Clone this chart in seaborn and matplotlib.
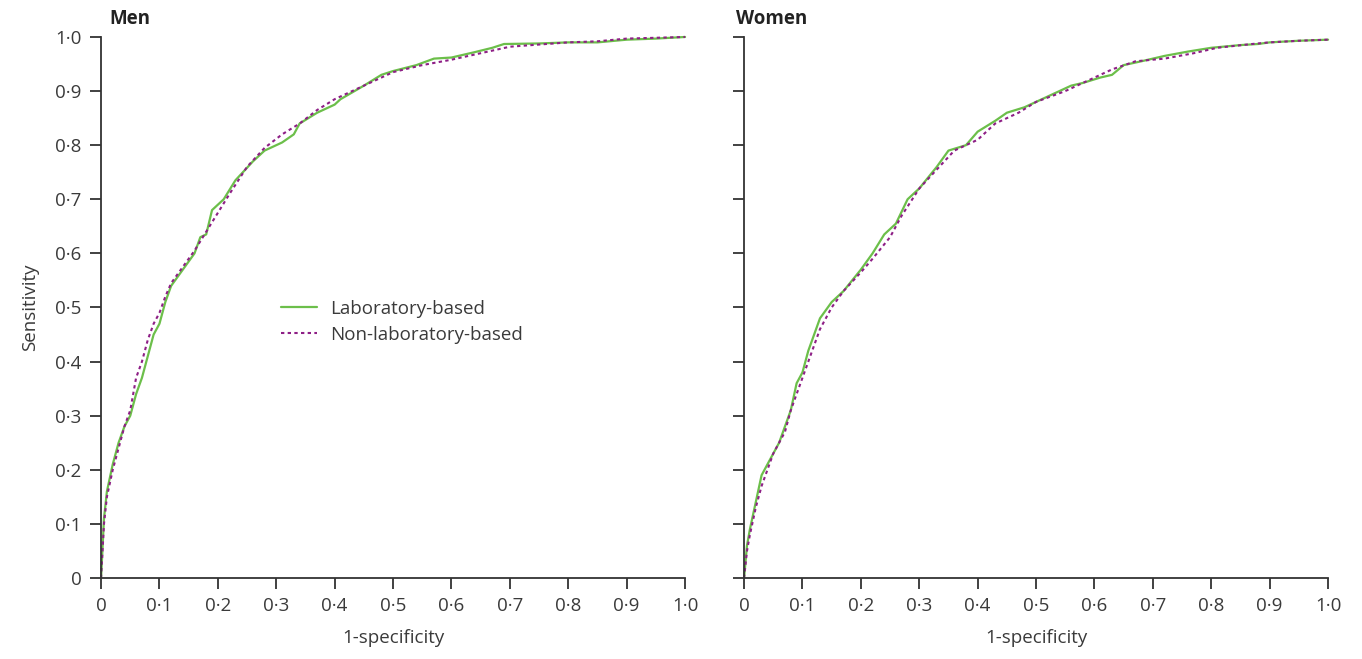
import numpy as np
import pandas as pd
import seaborn as sns
import matplotlib.pyplot as plt

# ROC points (x = 1-specificity, y = sensitivity)
men_lab_x = [0, 0.005, 0.01, 0.02, 0.03, 0.04, 0.05, 0.06, 0.07, 0.08, 0.09, 0.10, 0.11, 0.12,
             0.14, 0.16, 0.17, 0.18, 0.19, 0.21, 0.23, 0.26, 0.28, 0.31, 0.33, 0.34, 0.37, 0.40,
             0.41, 0.45, 0.48, 0.50, 0.54, 0.57, 0.60, 0.64, 0.67, 0.69, 0.75, 0.80, 0.85, 0.90,
             0.95, 1.0]
men_lab_y = [0, 0.11, 0.16, 0.21, 0.25, 0.28, 0.30, 0.34, 0.37, 0.41, 0.45, 0.47, 0.51, 0.54,
             0.57, 0.60, 0.63, 0.635, 0.68, 0.70, 0.735, 0.77, 0.79, 0.805, 0.82, 0.84, 0.86, 0.875,
             0.885, 0.91, 0.93, 0.937, 0.948, 0.96, 0.962, 0.972, 0.98, 0.987, 0.988, 0.99, 0.99, 0.995,
             0.997, 1.0]
men_nonlab_x = [0, 0.005, 0.01, 0.02, 0.03, 0.04, 0.05, 0.06, 0.07, 0.08, 0.09, 0.10, 0.11, 0.12,
                0.14, 0.16, 0.18, 0.20, 0.22, 0.25, 0.28, 0.31, 0.34, 0.37, 0.40, 0.45, 0.50, 0.55,
                0.60, 0.65, 0.70, 0.75, 0.80, 0.85, 0.90, 1.0]
men_nonlab_y = [0, 0.10, 0.15, 0.20, 0.24, 0.28, 0.31, 0.37, 0.40, 0.44, 0.47, 0.49, 0.52, 0.545,
                0.575, 0.605, 0.64, 0.675, 0.71, 0.76, 0.795, 0.82, 0.84, 0.865, 0.885, 0.91, 0.935, 0.948,
                0.958, 0.97, 0.982, 0.986, 0.99, 0.992, 0.997, 1.0]

women_lab_x = [0, 0.005, 0.01, 0.02, 0.03, 0.04, 0.05, 0.06, 0.07, 0.08, 0.09, 0.10, 0.11, 0.12,
               0.13, 0.15, 0.17, 0.20, 0.22, 0.24, 0.26, 0.28, 0.30, 0.33, 0.35, 0.38, 0.40, 0.43,
               0.45, 0.48, 0.50, 0.53, 0.56, 0.58, 0.61, 0.63, 0.65, 0.68, 0.72, 0.76, 0.80, 0.85,
               0.88, 0.90, 0.95, 1.0]
women_lab_y = [0, 0.06, 0.09, 0.14, 0.19, 0.21, 0.23, 0.25, 0.28, 0.31, 0.36, 0.38, 0.42, 0.45,
               0.48, 0.51, 0.53, 0.57, 0.60, 0.635, 0.655, 0.70, 0.72, 0.76, 0.79, 0.80, 0.825, 0.845,
               0.86, 0.87, 0.88, 0.895, 0.91, 0.915, 0.925, 0.93, 0.948, 0.955, 0.965, 0.973, 0.98, 0.985,
               0.987, 0.99, 0.993, 0.995]
women_nonlab_x = [0, 0.005, 0.01, 0.02, 0.03, 0.04, 0.05, 0.06, 0.07, 0.08, 0.09, 0.10, 0.11, 0.12,
                  0.13, 0.15, 0.17, 0.20, 0.22, 0.25, 0.27, 0.30, 0.33, 0.36, 0.40, 0.43, 0.47, 0.50,
                  0.55, 0.60, 0.63, 0.67, 0.72, 0.77, 0.81, 0.87, 0.90, 0.95, 1.0]
women_nonlab_y = [0, 0.05, 0.08, 0.13, 0.17, 0.20, 0.23, 0.25, 0.27, 0.31, 0.34, 0.37, 0.40, 0.43,
                  0.46, 0.50, 0.53, 0.565, 0.59, 0.63, 0.67, 0.72, 0.755, 0.79, 0.81, 0.84, 0.86, 0.88,
                  0.90, 0.925, 0.94, 0.955, 0.96, 0.97, 0.98, 0.987, 0.99, 0.993, 0.995]

ticks = [0, 0.1, 0.2, 0.3, 0.4, 0.5, 0.6, 0.7, 0.8, 0.9, 1.0]
tick_labels = ["0", "0·1", "0·2", "0·3", "0·4", "0·5", "0·6", "0·7", "0·8", "0·9", "1·0"]

sns.set_style("ticks")
plt.rcParams['font.family'] = ['Open Sans', 'DejaVu Sans']
text_col = "#3a3a3a"
green = "#6cbf4a"
purple = "#8e1f86"
fs = 13.5

fig = plt.figure(figsize=(13.62, 6.59), dpi=100)
ax_men = fig.add_axes([0.0742, 0.1229, 0.4288, 0.821])
ax_women = fig.add_axes([0.5463, 0.1229, 0.4288, 0.821])

panels = [
    (ax_men, "Men", men_lab_x, men_lab_y, men_nonlab_x, men_nonlab_y),
    (ax_women, "Women", women_lab_x, women_lab_y, women_nonlab_x, women_nonlab_y),
]

for ax, name, lx, ly, nx, ny in panels:
    sns.lineplot(x=lx, y=ly, ax=ax, color=green, linewidth=1.6, sort=False,
                 label="Laboratory-based", clip_on=False, estimator=None)
    sns.lineplot(x=nx, y=ny, ax=ax, color=purple, linewidth=1.5, sort=False,
                 linestyle=(0, (1.6, 1.6)), label="Non-laboratory-based",
                 clip_on=False, estimator=None)
    ax.set_xlim(0, 1)
    ax.set_ylim(0, 1)
    ax.set_xticks(ticks)
    ax.set_xticklabels(tick_labels)
    ax.set_yticks(ticks)
    ax.set_xlabel("1-specificity", fontsize=fs, color=text_col, labelpad=10)
    for side in ["top", "right"]:
        ax.spines[side].set_visible(False)
    for side in ["left", "bottom"]:
        ax.spines[side].set_linewidth(1.3)
        ax.spines[side].set_color("#333333")
    ax.tick_params(direction="out", length=8, width=1.3, color="#333333",
                   labelsize=fs, labelcolor=text_col, pad=6)
    ax.text(0.015 if name == "Men" else -0.014, 1.014, name, transform=ax.transAxes,
            fontsize=fs, fontweight="bold", color="#222222", va="bottom", ha="left")

ax_men.set_yticklabels(tick_labels)
ax_men.set_ylabel("Sensitivity", fontsize=fs, color=text_col, labelpad=12)
ax_women.set_yticklabels([])

ax_women.get_legend().remove()
ax_men.legend(loc="upper left", bbox_to_anchor=(0.28, 0.545), frameon=False,
              fontsize=fs, handlelength=1.9, handletextpad=0.7, labelspacing=0.4,
              labelcolor=text_col)

fig.savefig("out.png", dpi=100)
